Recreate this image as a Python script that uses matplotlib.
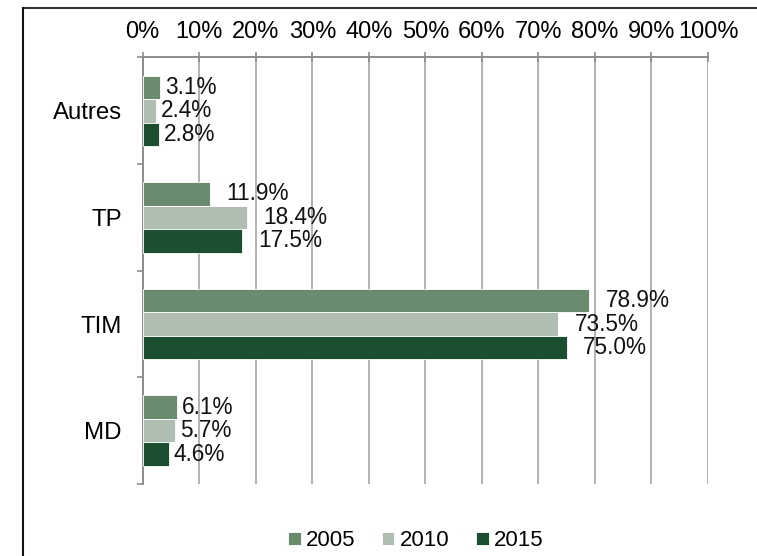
import matplotlib.pyplot as plt
from matplotlib.lines import Line2D
from matplotlib.ticker import FixedLocator

plt.rcParams['font.family'] = ['Liberation Sans', 'DejaVu Sans']

# categories from bottom to top
categories = ['MD', 'TIM', 'TP', 'Autres']
years = ['2005', '2010', '2015']
v2005 = [6.1, 78.9, 11.9, 3.1]
v2010 = [5.7, 73.5, 18.4, 2.4]
v2015 = [4.6, 75.0, 17.5, 2.8]
colors = ['#6b8b6f', '#b0bdb1', '#1b4f2f']
xticks = [0, 10, 20, 30, 40, 50, 60, 70, 80, 90, 100]

fig = plt.figure(figsize=(7.57, 5.56), dpi=100)
ax = fig.add_axes([0.1885, 0.1295, 0.9353 - 0.1885, 0.8966 - 0.1295])

h = 0.22
ys = range(len(categories))
series = [v2005, v2010, v2015]
for i, (vals, col, yr) in enumerate(zip(series, colors, years)):
    pos = [y + h * (1 - i) for y in ys]
    ax.barh(pos, vals, height=h, color=col, edgecolor='white', linewidth=0.6,
            label=yr, zorder=3)
    for p, v in zip(pos, vals):
        off = 3.5 if v < 10 else 12
        ax.annotate(f'{v:.1f}%', (v, p), xytext=(off, 0), textcoords='offset points',
                    ha='left', va='center', fontsize=16.3, color='#111111', zorder=4)

ax.set_xlim(0, 100)
ax.set_ylim(-0.5, len(categories) - 0.5)
ax.xaxis.tick_top()
ax.set_xticks(xticks)
ax.set_xticklabels([f'{t}%' for t in xticks])
ax.set_yticks(list(ys))
ax.set_yticklabels(categories)
ax.yaxis.set_minor_locator(FixedLocator([y - 0.5 for y in range(len(categories) + 1)]))

ax.tick_params(axis='x', direction='inout', length=7.5, width=1.2, color='#8c8c8c',
               pad=7, labelsize=17)
ax.tick_params(axis='y', which='major', length=0, pad=15, labelsize=17.3)
ax.tick_params(axis='y', which='minor', direction='out', length=4.5, width=1.2,
               color='#8c8c8c')

ax.grid(axis='x', color='#a6a6a6', linewidth=1.2, zorder=0)
for s in ['right', 'bottom']:
    ax.spines[s].set_visible(False)
for s in ['top', 'left']:
    ax.spines[s].set_color('#8c8c8c')
    ax.spines[s].set_linewidth(1.4)

ax.legend(loc='center', bbox_to_anchor=(416 / 757, 1 - 541 / 556),
          bbox_transform=fig.transFigure, ncol=3, frameon=False, fontsize=16,
          handlelength=0.55, handleheight=0.55, handletextpad=0.25,
          columnspacing=1.2)

# outer frame (top and left edges)
fig.add_artist(Line2D([23 / 757, 1], [1 - 7.5 / 556] * 2, color='#333333', linewidth=1.5))
fig.add_artist(Line2D([23 / 757] * 2, [0, 1 - 7.5 / 556], color='#111111', linewidth=1.5))

fig.savefig('out.png', dpi=100)
